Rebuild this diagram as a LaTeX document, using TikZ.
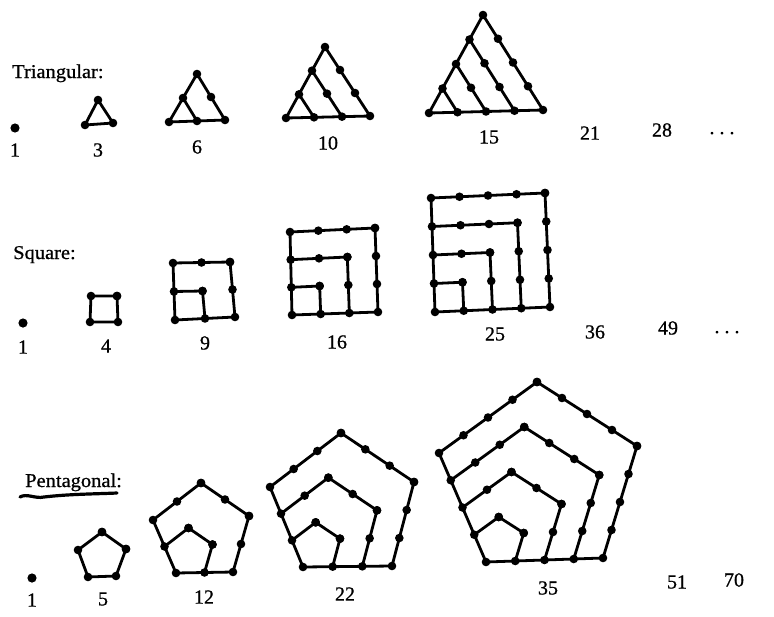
\documentclass[tikz,border=0pt]{standalone}
\usepackage{fontspec}
\setmainfont{Liberation Serif}[FakeBold=0.8]
\usetikzlibrary{calc}
\tikzset{
  fig/.style={line width=2.8pt, line join=round, line cap=round},
  lbl/.style={font=\fontsize{20}{23}\selectfont, inner sep=0pt},
  head/.style={font=\fontsize{19.5}{22}\selectfont, inner sep=0pt, anchor=base west, xscale=1.05},
}
\newcommand\dotr{4.3pt}
% triangle: #1 intervals, #2 bottom-left, #3 bottom-right, #4 apex
\newcommand\trifig[4]{%
  \coordinate (tO) at #2; \coordinate (tB) at #3; \coordinate (tA) at #4;
  \draw[fig] (tB) -- (tO) -- (tA);
  \fill (tO) circle[radius=\dotr];
  \foreach \k in {1,...,#1}{
    \pgfmathsetmacro\f{\k/#1}
    \coordinate (gA) at ($(tO)!\f!(tA)$);
    \coordinate (gB) at ($(tO)!\f!(tB)$);
    \draw[fig] (gA) -- (gB);
    \foreach \t in {0,...,\k}{
      \pgfmathsetmacro\g{\t/\k}
      \fill ($(gA)!\g!(gB)$) circle[radius=\dotr];
    }
  }
}
% square: #1 intervals, #2 BL, #3 BR, #4 TR, #5 TL
\newcommand\sqfig[5]{%
  \coordinate (sO) at #2; \coordinate (sB) at #3; \coordinate (sC) at #4; \coordinate (sD) at #5;
  \draw[fig] (sB) -- (sO) -- (sD);
  \fill (sO) circle[radius=\dotr];
  \foreach \k in {1,...,#1}{
    \pgfmathsetmacro\f{\k/#1}
    \coordinate (gL) at ($(sO)!\f!(sD)$);
    \coordinate (gT) at ($(sO)!\f!(sC)$);
    \coordinate (gR) at ($(sO)!\f!(sB)$);
    \draw[fig] (gL) -- (gT) -- (gR);
    \foreach \t in {0,...,\k}{
      \pgfmathsetmacro\g{\t/\k}
      \fill ($(gL)!\g!(gT)$) circle[radius=\dotr];
      \fill ($(gT)!\g!(gR)$) circle[radius=\dotr];
    }
  }
}
% pentagon: #1 intervals, #2 LL, #3 LR, #4 UR, #5 top, #6 UL
\newcommand\pentfig[6]{%
  \coordinate (pO) at #2; \coordinate (pB) at #3; \coordinate (pC) at #4;
  \coordinate (pD) at #5; \coordinate (pE) at #6;
  \draw[fig] (pB) -- (pO) -- (pE);
  \fill (pO) circle[radius=\dotr];
  \foreach \k in {1,...,#1}{
    \pgfmathsetmacro\f{\k/#1}
    \coordinate (gU) at ($(pO)!\f!(pE)$);
    \coordinate (gT) at ($(pO)!\f!(pD)$);
    \coordinate (gR) at ($(pO)!\f!(pC)$);
    \coordinate (gL) at ($(pO)!\f!(pB)$);
    \draw[fig] (gU) -- (gT) -- (gR) -- (gL);
    \foreach \t in {0,...,\k}{
      \pgfmathsetmacro\g{\t/\k}
      \fill ($(gU)!\g!(gT)$) circle[radius=\dotr];
      \fill ($(gT)!\g!(gR)$) circle[radius=\dotr];
      \fill ($(gR)!\g!(gL)$) circle[radius=\dotr];
    }
  }
}
\begin{document}
\begin{tikzpicture}[x=1pt,y=-1pt]
\useasboundingbox (0,0) rectangle (774,616);

% ---------- Triangular ----------
\node[head] (htri) at (12,78) {Triangular:};
\fill (15,128) circle[radius=4.6pt];
\trifig{1}{(85,125)}{(113,123)}{(98,100)}
\trifig{2}{(169,122)}{(225,120)}{(197,74)}
\trifig{3}{(286,118)}{(370,116)}{(325,47)}
\trifig{4}{(429,113)}{(543,110)}{(483,15)}
\node[lbl] (t1) at (15,150) {1};
\node[lbl] (t3) at (98,150) {3};
\node[lbl] (t6) at (197,147) {6};
\node[lbl] (t10) at (328,143) {10};
\node[lbl] (t15) at (489,137) {15};
\node[lbl] (t21) at (590,133) {21};
\node[lbl] (t28) at (662,130) {28};
\node[lbl, anchor=base] (tdots) at (722,134) {.\ .\ .};

% ---------- Square ----------
\node[head] (hsq) at (13,259) {Square:};
\fill (23,323) circle[radius=4.6pt];
\sqfig{1}{(90,322)}{(118,322)}{(117,296)}{(91,296)}
\sqfig{2}{(175,320)}{(235,317)}{(230,262)}{(173,263)}
\sqfig{3}{(292,315)}{(378,312)}{(375,228)}{(290,232)}
\sqfig{4}{(435,312)}{(550,307)}{(545,193)}{(431,198)}
\node[lbl] (s1) at (23,347) {1};
\node[lbl] (s4) at (106,346) {4};
\node[lbl] (s9) at (205,343) {9};
\node[lbl] (s16) at (337,342) {16};
\node[lbl] (s25) at (495,334) {25};
\node[lbl] (s36) at (595,332) {36};
\node[lbl] (s49) at (668,328) {49};
\node[lbl, anchor=base] (sdots) at (727,333) {.\ .\ .};

% ---------- Pentagonal ----------
\node[head] (hpent) at (25,487) {Pentagonal:};
\draw[line width=3.2pt, line cap=round] (20,497) .. controls (27,493) and (35,499) .. (44,497)
  .. controls (70,494) and (95,494) .. (117,493);
\fill (32,578) circle[radius=4.6pt];
\pentfig{1}{(88,577)}{(116,576)}{(126,549)}{(102,532)}{(78,550)}
\pentfig{2}{(176,573)}{(233,572)}{(249,516)}{(201,483)}{(153,520)}
\pentfig{3}{(303,567)}{(392,566)}{(414,482)}{(341,433)}{(270,487)}
\pentfig{4}{(486,562)}{(603,558)}{(637,446)}{(537,382)}{(439,453)}
\node[lbl] (p1) at (32,600) {1};
\node[lbl] (p5) at (103,599) {5};
\node[lbl] (p12) at (204,597) {12};
\node[lbl] (p22) at (345,594) {22};
\node[lbl] (p35) at (548,588) {35};
\node[lbl] (p51) at (677,582) {51};
\node[lbl] (p70) at (734,580) {70};
\end{tikzpicture}
\end{document}
